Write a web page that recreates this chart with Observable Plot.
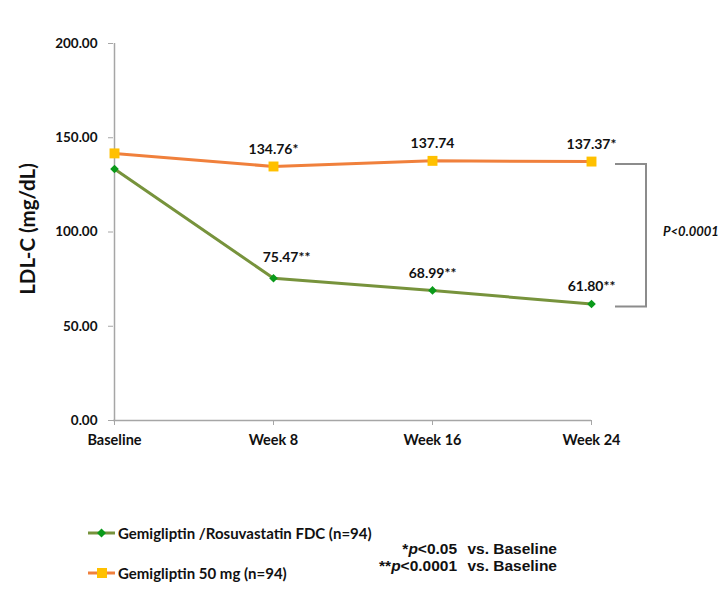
<!DOCTYPE html>
<html>
<head>
<meta charset="utf-8">
<script src="https://cdn.jsdelivr.net/npm/d3@7"></script>
<script src="https://cdn.jsdelivr.net/npm/@observablehq/plot@0.6"></script>
<style>
  html, body { margin: 0; padding: 0; background: #fff; }
  #wrap { position: relative; width: 721px; height: 615px; font-family: Lato, "Open Sans", sans-serif; }
  #wrap svg { display: block; }
  .key { position: absolute; left: 88px; display: flex; align-items: center; font-weight: bold; font-size: 15px; color: #111; white-space: nowrap; }
  .key svg { margin-right: 2px; }
  .note { position: absolute; right: 164px; font-family: "Liberation Sans", Arial, sans-serif; font-weight: bold; font-size: 15.5px; color: #111; text-align: right; white-space: nowrap; line-height: 17px; }
  .note .gap { margin-left: 6px; }
</style>
</head>
<body>
<div id="wrap"></div>
<script>
// Visits and LDL-C means (mg/dL)
const visits = ["Baseline", "Week 8", "Week 16", "Week 24"];
const fdcValues = [133.4, 75.47, 68.99, 61.80];     // Gemigliptin/Rosuvastatin FDC
const gemiValues = [141.7, 134.76, 137.74, 137.37]; // Gemigliptin 50 mg
const fdcSig = ["", "**", "**", "**"];
const gemiSig = ["", "*", "", "*"];
const yTicks = [0, 50, 100, 150, 200];
const seriesNames = ["Gemigliptin /Rosuvastatin FDC (n=94)", "Gemigliptin 50 mg (n=94)"];
const groupPValue = "P<0.0001";

const fdcColor = "#77933C", fdcMarker = "#0a9a1a";
const gemiColor = "#F0803C", gemiMarker = "#FFC000";
const axisGray = "#A6A6A6";

const fdc = visits.map((v, i) => ({visit: v, value: fdcValues[i], sig: fdcSig[i]}));
const gemi = visits.map((v, i) => ({visit: v, value: gemiValues[i], sig: gemiSig[i]}));
const label = d => d.value.toFixed(2) + d.sig;
const fmt = d3.format(".2f");

// bracket comparing the two arms at the final visit
const bracket = (index, scales) => {
  const g = d3.create("svg:g");
  const x0 = scales.x(visits[visits.length - 1]);
  const top = scales.y(gemiValues[gemiValues.length - 1]) + 3;
  const bottom = scales.y(fdcValues[fdcValues.length - 1]) + 3;
  g.append("path")
    .attr("d", `M${x0 + 24},${top}H${x0 + 55}V${bottom}H${x0 + 24}`)
    .attr("fill", "none").attr("stroke", "#8C8C8C").attr("stroke-width", 2);
  g.append("text")
    .attr("x", x0 + 72).attr("y", (top + bottom) / 2 - 4)
    .attr("dy", "0.35em")
    .attr("text-anchor", "start")
    .attr("font-size", 13).attr("font-weight", "bold").attr("font-style", "italic")
    .attr("fill", "#111")
    .text(groupPValue);
  return g.node();
};

const chart = Plot.plot({
  width: 721,
  height: 470,
  marginLeft: 113,
  marginRight: 130,
  marginTop: 43,
  marginBottom: 50,
  style: {fontFamily: "Lato, 'Open Sans', sans-serif", background: "#fff", color: "#111", overflow: "visible"},
  x: {type: "point", domain: visits, padding: 0},
  y: {domain: [0, 200]},
  marks: [
    Plot.ruleX([visits[0]], {y1: 0, y2: 200, stroke: axisGray, strokeWidth: 1.5}),
    Plot.ruleY([0], {stroke: axisGray, strokeWidth: 1.5}),
    Plot.axisY({ticks: yTicks, tickFormat: fmt, tickSize: 5, tickPadding: 11, stroke: axisGray, fill: "#111",
      fontSize: 13.5, fontWeight: "bold", label: null}),
    Plot.axisX({tickSize: 5, tickPadding: 9, stroke: axisGray, fill: "#111",
      fontSize: 14.5, fontWeight: "bold", label: null}),
    Plot.text(["LDL-C (mg/dL)"], {frameAnchor: "left", textAnchor: "middle", rotate: -90, dx: -85, dy: -3,
      fontSize: 20.5, fontWeight: "bold", fill: "#111"}),
    Plot.line(gemi, {x: "visit", y: "value", stroke: gemiColor, strokeWidth: 3}),
    Plot.line(fdc, {x: "visit", y: "value", stroke: fdcColor, strokeWidth: 3}),
    Plot.dot(gemi, {x: "visit", y: "value", symbol: "square", r: 5.6, fill: gemiMarker, stroke: null}),
    Plot.dot(fdc, {x: "visit", y: "value", symbol: "diamond2", r: 3.9, fill: fdcMarker, stroke: null}),
    Plot.text(gemi.slice(1), {x: "visit", y: "value", text: label, dy: -17, fontSize: 14, fontWeight: "bold", fill: "#111"}),
    Plot.text(fdc.slice(2), {x: "visit", y: "value", text: label, dy: -17, fontSize: 14, fontWeight: "bold", fill: "#111"}),
    Plot.text(fdc.slice(1, 2), {x: "visit", y: "value", text: label, dx: 13, dy: -21, fontSize: 14, fontWeight: "bold", fill: "#111"}),
    bracket
  ]
});

const wrap = document.getElementById("wrap");
wrap.appendChild(chart);

// legend and footnotes below the plot
function keyRow(name, color, marker, symbol, top) {
  const row = document.createElement("div");
  row.className = "key";
  row.style.top = top + "px";
  const s = d3.create("svg").attr("width", 28).attr("height", 14);
  s.append("line").attr("x1", 0).attr("x2", 27).attr("y1", 7).attr("y2", 7)
    .attr("stroke", color).attr("stroke-width", 3);
  if (symbol === "square") {
    s.append("rect").attr("x", 9).attr("y", 2).attr("width", 10).attr("height", 10).attr("fill", marker);
  } else {
    s.append("path").attr("d", "M13.5,2.5L18,7L13.5,11.5L9,7Z").attr("fill", marker);
  }
  row.appendChild(s.node());
  const t = document.createElement("span");
  t.textContent = name;
  row.appendChild(t);
  wrap.appendChild(row);
}
keyRow(seriesNames[0], fdcColor, fdcMarker, "diamond", 524);
keyRow(seriesNames[1], gemiColor, gemiMarker, "square", 564);

const note = document.createElement("div");
note.className = "note";
note.style.top = "540px";
note.innerHTML = "*<i>p</i>&lt;0.05<span class=\"gap\"></span> vs. Baseline<br>**<i>p</i>&lt;0.0001<span class=\"gap\"></span> vs. Baseline";
wrap.appendChild(note);
</script>
</body>
</html>
